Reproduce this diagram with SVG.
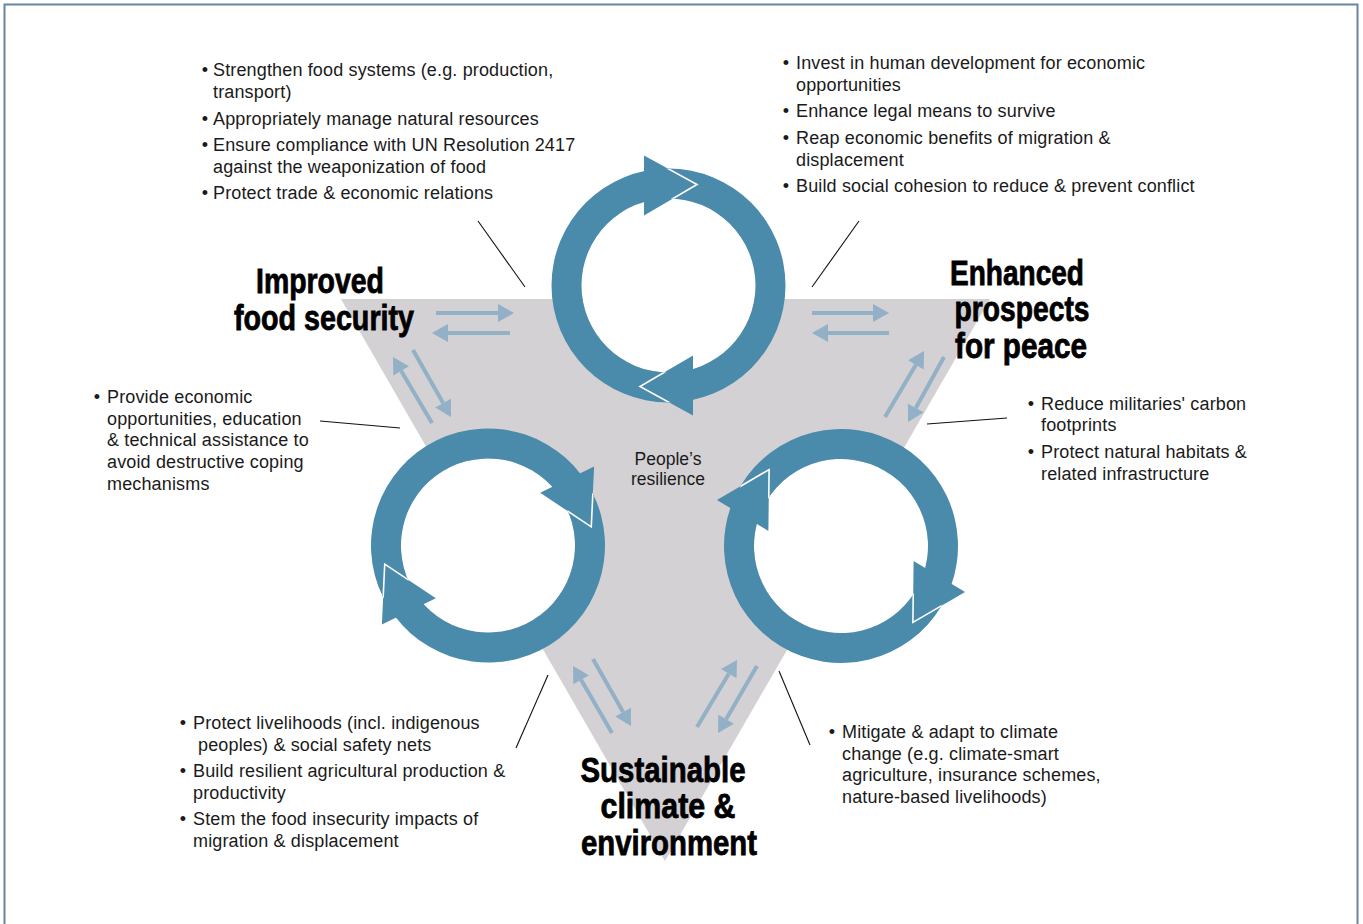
<svg xmlns="http://www.w3.org/2000/svg" xmlns:xlink="http://www.w3.org/1999/xlink" width="1363" height="924" viewBox="0 0 1363 924">
<style>
.body{font-family:"Liberation Sans",Arial,sans-serif;font-size:18px;letter-spacing:0.15px;fill:#1a1a1a}
.bul{text-anchor:middle}
.title{font-family:"Liberation Sans",Arial,sans-serif;font-weight:bold;font-size:35px;fill:#000;stroke:#000;stroke-width:0.8;text-anchor:middle}
.center{font-family:"Liberation Sans",Arial,sans-serif;font-size:17.5px;fill:#1a1a1a;text-anchor:middle}
.leader{stroke:#111;stroke-width:1.1;fill:none}
.flow{stroke:#92b0c6;stroke-width:4;fill:none}
.ring{fill:#4a8aab}
.edge{fill:none;stroke:#fff;stroke-width:1.6}
</style>
<defs>
<marker id="ah" markerUnits="userSpaceOnUse" markerWidth="16" markerHeight="18" refX="0" refY="9" orient="auto" overflow="visible">
<path d="M0,0 L16,9 L0,18 z" fill="#92b0c6"/>
</marker>
<clipPath id="ringclip" clipPathUnits="userSpaceOnUse">
<path clip-rule="evenodd" d="M117,0 A117,117 0 1,0 -117,0 A117,117 0 1,0 117,0 Z M87,0 A87,87 0 1,0 -87,0 A87,87 0 1,0 87,0 Z"/>
</clipPath>
<g id="cycle">
<circle r="87" fill="#fff"/>
<path class="ring" fill-rule="evenodd" d="M117,0 A117,117 0 1,0 -117,0 A117,117 0 1,0 117,0 Z M87,0 A87,87 0 1,0 -87,0 A87,87 0 1,0 87,0 Z"/>
<polygon class="ring" points="-24.5,-130 28.5,-101 -24.5,-70"/>
<polygon class="ring" points="24.5,130 -28.5,101 24.5,70"/>
<g clip-path="url(#ringclip)">
<path class="edge" d="M-24.5,-130 L28.5,-101 L-24.5,-70"/>
<path class="edge" d="M24.5,130 L-28.5,101 L24.5,70"/>
</g>
</g>
</defs>
<rect x="0" y="0" width="1363" height="924" fill="#fff"/>
<rect x="4.5" y="4.5" width="1353" height="940" fill="none" stroke="#6a84a0" stroke-width="2"/>
<polygon id="triangle" points="341,299 990,299 665,861" fill="#d3d1d3"/>

<g id="connectors">
<line class="leader" x1="478" y1="221" x2="525" y2="287"/>
<line class="leader" x1="859" y1="221" x2="812" y2="287"/>
<line class="leader" x1="320" y1="421" x2="400" y2="428"/>
<line class="leader" x1="1007" y1="418" x2="927" y2="424"/>
<line class="leader" x1="548" y1="675" x2="516" y2="748"/>
<line class="leader" x1="779" y1="671" x2="810" y2="745"/>
<line class="flow" marker-end="url(#ah)" x1="436" y1="313" x2="498" y2="313"/>
<line class="flow" marker-end="url(#ah)" x1="510" y1="333" x2="448" y2="333"/>
<line class="flow" marker-end="url(#ah)" x1="432" y1="423" x2="401.1" y2="370.8"/>
<line class="flow" marker-end="url(#ah)" x1="413" y1="350" x2="443.1" y2="403.1"/>
<line class="flow" marker-end="url(#ah)" x1="812" y1="313" x2="873" y2="313"/>
<line class="flow" marker-end="url(#ah)" x1="889" y1="333" x2="828" y2="333"/>
<line class="flow" marker-end="url(#ah)" x1="885" y1="417" x2="915.9" y2="364.8"/>
<line class="flow" marker-end="url(#ah)" x1="944" y1="357" x2="915.8" y2="408"/>
<line class="flow" marker-end="url(#ah)" x1="612" y1="733" x2="581.1" y2="679.8"/>
<line class="flow" marker-end="url(#ah)" x1="593" y1="659" x2="623.1" y2="712.1"/>
<line class="flow" marker-end="url(#ah)" x1="697" y1="727" x2="728.8" y2="673.7"/>
<line class="flow" marker-end="url(#ah)" x1="757" y1="666" x2="726.1" y2="719.2"/>
</g>

<g id="cycle-top" transform="translate(668.5,285.5)"><use href="#cycle" xlink:href="#cycle"/></g>
<g id="cycle-left" transform="translate(488,545.5) rotate(64)"><use href="#cycle" xlink:href="#cycle"/></g>
<g id="cycle-right" transform="translate(841,546) rotate(-59)"><use href="#cycle" xlink:href="#cycle"/></g>

<g id="node-food-security">
<text class="title" x="320" y="293" textLength="128" lengthAdjust="spacingAndGlyphs">Improved</text>
<text class="title" x="324" y="330" textLength="180" lengthAdjust="spacingAndGlyphs">food security</text>
</g>
<g id="node-peace">
<text class="title" x="1017" y="285" textLength="134" lengthAdjust="spacingAndGlyphs">Enhanced</text>
<text class="title" x="1022" y="321" textLength="135" lengthAdjust="spacingAndGlyphs">prospects</text>
<text class="title" x="1021" y="358" textLength="132" lengthAdjust="spacingAndGlyphs">for peace</text>
</g>
<g id="node-climate">
<text class="title" x="663" y="782" textLength="165" lengthAdjust="spacingAndGlyphs">Sustainable</text>
<text class="title" x="668" y="818" textLength="135" lengthAdjust="spacingAndGlyphs">climate &amp;</text>
<text class="title" x="669" y="855" textLength="176" lengthAdjust="spacingAndGlyphs">environment</text>
</g>
<g id="node-resilience">
<text class="center" x="668" y="465">People’s</text>
<text class="center" x="668" y="485">resilience</text>
</g>

<g id="notes-food-peace" class="body">
<text class="bul" x="205" y="76">•</text><text x="213" y="76">Strengthen food systems (e.g. production,</text>
<text x="213" y="98">transport)</text>
<text class="bul" x="205" y="125">•</text><text x="213" y="125">Appropriately manage natural resources</text>
<text class="bul" x="205" y="151">•</text><text x="213" y="151">Ensure compliance with UN Resolution 2417</text>
<text x="213" y="173">against the weaponization of food</text>
<text class="bul" x="205" y="199">•</text><text x="213" y="199">Protect trade &amp; economic relations</text>
</g>
<g id="notes-peace-food" class="body">
<text class="bul" x="786" y="69">•</text><text x="796" y="69">Invest in human development for economic</text>
<text x="796" y="91">opportunities</text>
<text class="bul" x="786" y="117">•</text><text x="796" y="117">Enhance legal means to survive</text>
<text class="bul" x="786" y="144">•</text><text x="796" y="144">Reap economic benefits of migration &amp;</text>
<text x="796" y="166">displacement</text>
<text class="bul" x="786" y="192">•</text><text x="796" y="192">Build social cohesion to reduce &amp; prevent conflict</text>
</g>
<g id="notes-food-left" class="body">
<text class="bul" x="97" y="403">•</text><text x="107" y="403">Provide economic</text>
<text x="107" y="425">opportunities, education</text>
<text x="107" y="446">&amp; technical assistance to</text>
<text x="107" y="468">avoid destructive coping</text>
<text x="107" y="490">mechanisms</text>
</g>
<g id="notes-peace-right" class="body">
<text class="bul" x="1031" y="410">•</text><text x="1041" y="410">Reduce militaries' carbon</text>
<text x="1041" y="431">footprints</text>
<text class="bul" x="1031" y="458">•</text><text x="1041" y="458">Protect natural habitats &amp;</text>
<text x="1041" y="480">related infrastructure</text>
</g>
<g id="notes-climate-left" class="body">
<text class="bul" x="183" y="729">•</text><text x="193" y="729">Protect livelihoods (incl. indigenous</text>
<text x="198" y="751">peoples) &amp; social safety nets</text>
<text class="bul" x="183" y="777">•</text><text x="193" y="777">Build resilient agricultural production &amp;</text>
<text x="193" y="799">productivity</text>
<text class="bul" x="183" y="825">•</text><text x="193" y="825">Stem the food insecurity impacts of</text>
<text x="193" y="847">migration &amp; displacement</text>
</g>
<g id="notes-climate-right" class="body">
<text class="bul" x="832" y="738">•</text><text x="842" y="738">Mitigate &amp; adapt to climate</text>
<text x="842" y="760">change (e.g. climate-smart</text>
<text x="842" y="781">agriculture, insurance schemes,</text>
<text x="842" y="803">nature-based livelihoods)</text>
</g>
</svg>
